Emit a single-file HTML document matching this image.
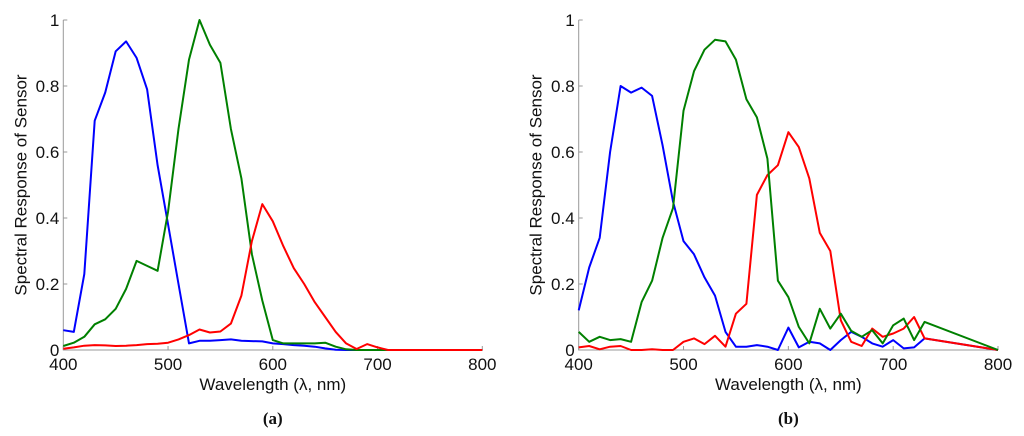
<!DOCTYPE html>
<html><head><meta charset="utf-8"><style>
html,body{margin:0;padding:0;background:#fff;}
svg{display:block;font-family:"Liberation Sans",sans-serif;}
</style></head><body>
<svg id="svg" width="1024" height="436" viewBox="0 0 1024 436"></svg>
<script>
const wl=[400,410,420,430,440,450,460,470,480,490,500,510,520,530,540,550,560,570,580,590,600,610,620,630,640,650,660,670,680,690,700,710,720,730,740,750,760,770,780,790,800];
const aBlue=[0.06,0.055,0.23,0.695,0.78,0.905,0.935,0.885,0.79,0.56,0.38,0.2,0.02,0.028,0.028,0.03,0.032,0.028,0.027,0.026,0.02,0.018,0.015,0.013,0.01,0.005,0.001,0,0,0,0,0,0,0,0,0,0,0,0,0,0];
const aGreen=[0.012,0.022,0.04,0.078,0.093,0.125,0.185,0.27,0.255,0.24,0.42,0.67,0.88,1.0,0.925,0.87,0.67,0.52,0.29,0.15,0.03,0.02,0.02,0.02,0.02,0.022,0.01,0.002,0,0,0,0,0,0,0,0,0,0,0,0,0];
const aRed=[0.004,0.008,0.013,0.015,0.014,0.012,0.013,0.015,0.018,0.019,0.022,0.032,0.045,0.062,0.053,0.056,0.08,0.165,0.33,0.442,0.39,0.315,0.248,0.2,0.145,0.1,0.055,0.02,0.003,0.018,0.008,0,0,0,0,0,0,0,0,0,0];
const bWl=[400,410,420,430,440,450,460,470,480,490,500,510,520,530,540,550,560,570,580,590,600,610,620,630,640,650,660,670,680,690,700,710,720,730,800];
const bBlue=[0.12,0.25,0.34,0.6,0.8,0.78,0.795,0.77,0.62,0.45,0.33,0.29,0.22,0.165,0.055,0.01,0.01,0.015,0.01,0,0.068,0.008,0.025,0.02,0,0.03,0.055,0.04,0.02,0.01,0.03,0.005,0.008,0.035,0];
const bGreen=[0.055,0.025,0.04,0.03,0.033,0.025,0.145,0.21,0.34,0.43,0.725,0.845,0.91,0.94,0.935,0.88,0.76,0.705,0.58,0.21,0.16,0.07,0.02,0.125,0.065,0.11,0.058,0.04,0.06,0.02,0.075,0.095,0.03,0.085,0];
const bRed=[0.008,0.012,0.002,0.01,0.012,0,0,0.002,0,0,0.025,0.035,0.018,0.043,0.01,0.11,0.14,0.47,0.53,0.56,0.66,0.615,0.52,0.355,0.3,0.09,0.025,0.012,0.065,0.04,0.05,0.065,0.1,0.035,0];
const xTicks=[400,500,600,700,800];
const yTicks=[0,0.2,0.4,0.6,0.8,1];
const yTickLabels=["0","0.2","0.4","0.6","0.8","1"];

const NS="http://www.w3.org/2000/svg";
const svg=document.getElementById('svg');
function mk(tag,attrs,parent){const e=document.createElementNS(NS,tag);for(const k in attrs)e.setAttribute(k,attrs[k]);(parent||svg).appendChild(e);return e;}

function panel(id,x0,x1,series,caption){
  const y0=350,y1=20;
  const sx=v=>x0+(v-400)/400*(x1-x0);
  const sy=v=>y0+(y1-y0)*v;
  const g=mk('g',{});
  
  
  const ax=mk('path',{d:`M${x0},${y1}V${y0}H${x1}`,fill:'none',stroke:'#999','stroke-width':1},g);
  
  
  xTicks.forEach(t=>{
    const tk=mk('line',{x1:sx(t),x2:sx(t),y1:y0,y2:y0-4,stroke:'#999'},g);
    
    
    const tl=mk('text',{x:sx(t),y:370,'text-anchor':'middle','font-size':17,fill:'#111'},g);
    tl.textContent=t;
    
    
  });
  yTicks.forEach((t,i)=>{
    const tk=mk('line',{x1:x0,x2:x0+4,y1:sy(t),y2:sy(t),stroke:'#999'},g);
    
    
    const tl=mk('text',{x:x0-4,y:sy(t)+6,'text-anchor':'end','font-size':17,fill:'#111'},g);
    tl.textContent=yTickLabels[i];
    
    
  });
  const xt=mk('text',{x:(x0+x1)/2,y:390,'text-anchor':'middle','font-size':17,fill:'#111'},g);
  xt.textContent='Wavelength (\u03bb, nm)';
  
  
  const yt=mk('text',{x:0,y:0,'text-anchor':'middle','font-size':17,fill:'#111',transform:`translate(${x0-37},185) rotate(-90)`},g);
  yt.textContent='Spectral Response of Sensor';
  
  
  series.forEach(s=>{
    const d=s.v.map((v,i)=>(i?'L':'M')+sx(s.x[i]).toFixed(1)+','+sy(v).toFixed(1)).join('');
    const p=mk('path',{d:d,fill:'none',stroke:s.c,'stroke-width':2,'stroke-linejoin':'round'},g);
    
    
  });
  const cp=mk('text',{x:(x0+x1)/2,y:424,'text-anchor':'middle','font-size':17,'font-weight':'bold','font-family':'"Liberation Serif",serif',fill:'#111'},g);
  cp.textContent=caption;
  
  
}
panel('a',63.3,482.3,[{x:wl,v:aBlue,c:'#0000ff',n:'blue'},{x:wl,v:aGreen,c:'#008000',n:'green'},{x:wl,v:aRed,c:'#ff0000',n:'red'}],'(a)');
panel('b',578.7,998,[{x:bWl,v:bBlue,c:'#0000ff',n:'blue'},{x:bWl,v:bRed,c:'#ff0000',n:'red'},{x:bWl,v:bGreen,c:'#008000',n:'green'}],'(b)');
</script>
</body></html>
